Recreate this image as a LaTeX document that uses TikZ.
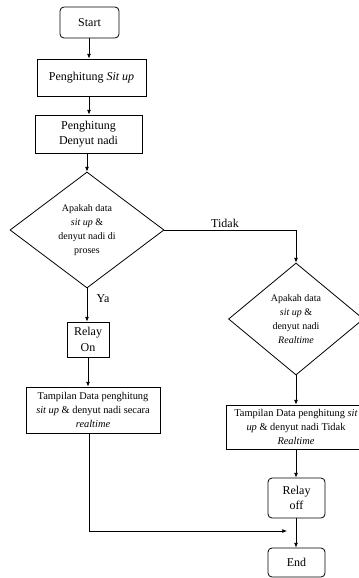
\documentclass[tikz,border=0pt]{standalone}
\usepackage{fontspec}
\setmainfont{Liberation Serif}
\usetikzlibrary{shapes.geometric,arrows.meta}
\begin{document}
\begin{tikzpicture}[x=0.75pt,y=-0.75pt,
  every node/.style={inner sep=0pt, align=center, line width=0.6pt},
  proc/.style={draw, rectangle, font=\fontsize{9}{11.5}\selectfont},
  term/.style={draw, rectangle, rounded corners=3pt, font=\fontsize{9}{11.5}\selectfont},
  dec/.style={draw, diamond, font=\fontsize{7.5}{10.4}\selectfont},
  small/.style={draw, rectangle, font=\fontsize{7.8}{10.5}\selectfont},
  lbl/.style={font=\fontsize{9}{11}\selectfont},
  conn/.style={line width=0.6pt, -{Latex[length=3.5pt,width=3pt]}},
  plain/.style={line width=0.6pt}]
\useasboundingbox (0,0) rectangle (358,578);
\fill[white] (0,0) rectangle (358,578);

\node[term, minimum width=44.25pt, minimum height=23.25pt] (start) at (89.5,22.5) {Start};
\node[proc, minimum width=81.75pt, minimum height=27.75pt] (sit) at (91.5,77.5) {Penghitung \textit{Sit up}};
\node[proc, minimum width=80.25pt, minimum height=28.5pt] (den) at (88.5,134) {Penghitung\\Denyut nadi};
\node[dec, minimum width=115.5pt, minimum height=87pt] (d1) at (87,230) {Apakah data\\\textit{sit up} \&\\denyut nadi di\\proses};
\node[proc, minimum width=31.5pt, minimum height=26.25pt] (ron) at (88,339.5) {Relay\\On};
\node[small, minimum width=100.5pt, minimum height=34.5pt] (tl) at (93,410) {Tampilan Data penghitung\\\textit{sit up} \& denyut nadi secara\\\textit{realtime}};
\node[dec, minimum width=101.25pt, minimum height=84pt] (d2) at (296,319) {Apakah data\\\textit{sit up} \&\\denyut nadi\\\textit{Realtime}};
\node[small, minimum width=105pt, minimum height=33pt] (tr) at (296,427) {Tampilan Data penghitung \textit{sit}\\\textit{up} \& denyut nadi Tidak\\\textit{Realtime}};
\node[term, minimum width=42.75pt, minimum height=30pt] (roff) at (296.5,498) {Relay\\off};
\node[term, minimum width=42.75pt, minimum height=21.75pt] (end) at (296.5,562.5) {End};

\coordinate (jn) at (287,531);
\coordinate (bend) at (89,531);

\draw[conn] (89,0 |- start.south) -- (89,0 |- sit.north);
\draw[conn] (89,0 |- sit.south) -- (89,0 |- den.north);
\draw[conn] (87,0 |- den.south) -- (d1.north);
\draw[conn] (d1.south) -- (87,0 |- ron.north) node[lbl, pos=0.3, right=7pt] {Ya};
\draw[conn] (88,0 |- ron.south) -- (88,0 |- tl.north);
\draw[plain] (89,0 |- tl.south) -- (bend);
\draw[conn] (bend) -- (jn);
\draw[conn] (d1.east) -- (d2.north |- d1.east) -- (d2.north);
\node[lbl, anchor=south] (tidak) at (225,228) {Tidak};
\draw[conn] (d2.south) -- (296,0 |- tr.north);
\draw[conn] (296,0 |- tr.south) -- (296,0 |- roff.north);
\draw[conn] (296,0 |- roff.south) -- (296,0 |- end.north);
\end{tikzpicture}
\end{document}
